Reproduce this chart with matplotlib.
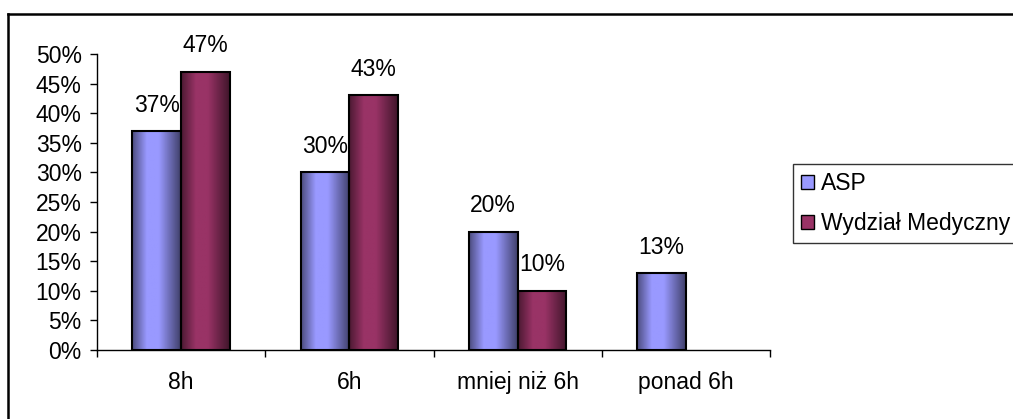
import matplotlib
matplotlib.use('Agg')
import matplotlib.pyplot as plt
import numpy as np
from matplotlib.patches import Rectangle
from matplotlib.lines import Line2D

categories = ['8h', '6h', 'mniej niż 6h', 'ponad 6h']
asp = [0.37, 0.30, 0.20, 0.13]
medyczny = [0.47, 0.43, 0.10, 0.0]
series_names = ['ASP', 'Wydział Medyczny']
colors = ['#9999FF', '#993366']

plt.rcParams['font.family'] = ['Liberation Sans', 'DejaVu Sans']
FS = 16.5

W, H = 1013, 419
fig = plt.figure(figsize=(W / 100, H / 100), dpi=100)
ax = fig.add_axes([97 / W, 1 - 350 / H, (770 - 97) / W, (350 - 54) / H])

# shading profile across a bar (cylinder-like look)
prof_x = [0.0, 0.3, 0.55, 1.0]
prof_v = [0.5, 1.0, 1.0, 0.42]
xs = np.linspace(0, 1, 64)
shade = np.interp(xs, prof_x, prof_v)


def shaded_bar(bar, color):
    base = np.array(matplotlib.colors.to_rgb(color))
    img = np.clip(base[None, :] * shade[:, None], 0, 1)[None, :, :]
    x0, y0 = bar.get_x(), bar.get_y()
    w, h = bar.get_width(), bar.get_height()
    if h <= 0:
        return
    im = ax.imshow(img, extent=[x0, x0 + w, y0, y0 + h], aspect='auto',
                   interpolation='bilinear', zorder=2)
    im.set_clip_path(bar)


x = np.arange(len(categories))
bw = 0.29
for vals, off, col in [(asp, -bw / 2, colors[0]), (medyczny, bw / 2, colors[1])]:
    bars = ax.bar(x + off, vals, bw, facecolor='none', edgecolor='black',
                  linewidth=1.5, zorder=3)
    for b, v in zip(bars, vals):
        if v <= 0:
            b.set_visible(False)
            continue
        shaded_bar(b, col)
        ax.annotate(f'{round(v * 100)}%', (b.get_x() + b.get_width() / 2, v),
                    xytext=(0, 14), textcoords='offset points',
                    ha='center', va='baseline', fontsize=FS)

ax.set_xlim(-0.5, len(categories) - 0.5)
ax.set_ylim(0, 0.5)
ax.set_yticks(np.arange(0, 0.51, 0.05))
ax.set_yticklabels([f'{int(round(t * 100))}%' for t in np.arange(0, 0.51, 0.05)])
ax.set_xticks(x)
ax.set_xticklabels(categories)
ax.set_xticks(np.arange(-0.5, len(categories), 1), minor=True)
ax.tick_params(axis='x', which='major', length=0, pad=15, labelsize=FS)
ax.tick_params(axis='x', which='minor', length=5, width=1, direction='out')
ax.tick_params(axis='y', length=5, width=1, direction='out', pad=6, labelsize=FS)
ax.spines['top'].set_visible(False)
ax.spines['right'].set_visible(False)
for s in ['left', 'bottom']:
    ax.spines[s].set_linewidth(1)

handles = [Rectangle((0, 0), 1, 1, facecolor=c, edgecolor='black', linewidth=1)
           for c in colors]
leg = fig.legend(handles, series_names, loc='upper left',
                 bbox_to_anchor=(793 / W, 1 - 164 / H), fontsize=FS,
                 frameon=True, fancybox=False, borderpad=0.35,
                 handlelength=0.55, handleheight=0.55, handletextpad=0.3,
                 labelspacing=0.75, borderaxespad=0)
leg.get_frame().set_edgecolor('black')
leg.get_frame().set_linewidth(1)

# outer chart frame (only top and left visible in the crop)
fig.add_artist(Line2D([8 / W, 1.0], [1 - 14 / H, 1 - 14 / H], color='black',
                      linewidth=1.8, transform=fig.transFigure))
fig.add_artist(Line2D([8 / W, 8 / W], [0.0, 1 - 14 / H], color='black',
                      linewidth=1.8, transform=fig.transFigure))

fig.savefig('out.png', dpi=100)
